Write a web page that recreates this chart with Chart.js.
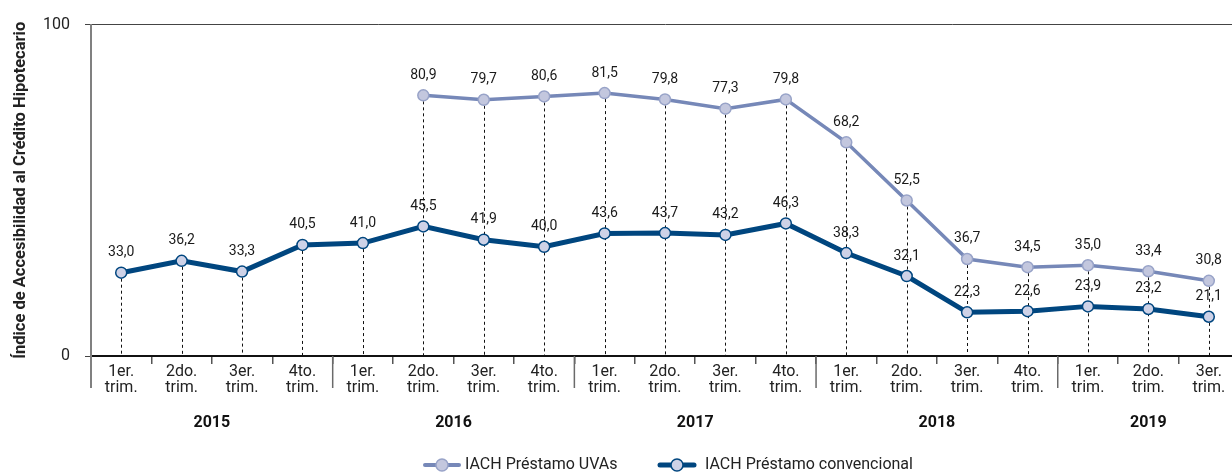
<!DOCTYPE html>
<html><head><meta charset="utf-8">
<script src="https://cdn.jsdelivr.net/npm/chart.js@4/dist/chart.umd.min.js"></script>
<style>html,body{margin:0;padding:0;background:#fff;overflow:hidden}#wrap{width:1246px;height:475px;position:relative}</style>
</head><body><div id="wrap"><canvas id="c"></canvas></div>
<script>
const quarters = [
  ["1er.","trim."],["2do.","trim."],["3er.","trim."],["4to.","trim."],
  ["1er.","trim."],["2do.","trim."],["3er.","trim."],["4to.","trim."],
  ["1er.","trim."],["2do.","trim."],["3er.","trim."],["4to.","trim."],
  ["1er.","trim."],["2do.","trim."],["3er.","trim."],["4to.","trim."],
  ["1er.","trim."],["2do.","trim."],["3er.","trim."]
];
const years = ["2015","2016","2017","2018","2019"];
const yearSizes = [4,4,4,4,3];
const uvas = [null,null,null,null,null,80.9,79.7,80.6,81.5,79.8,77.3,79.8,68.2,52.5,36.7,34.5,35.0,33.4,30.8];
const convencional = [33.0,36.2,33.3,40.5,41.0,45.5,41.9,40.0,43.6,43.7,43.2,46.3,38.3,32.1,22.3,22.6,23.9,23.2,21.1];
const seriesNames = ["IACH Préstamo UVAs","IACH Préstamo convencional"];
const yAxisMin = 10.5, yAxisMax = 100;
const yTickLabels = ["0","100"];
const yTitle = "Índice de Accesibilidad al Crédito Hipotecario";

const C_UVA_LINE = '#7688b8', C_UVA_FILL = '#c3c7de', C_UVA_PT = '#98a3c8';
const C_CONV_LINE = '#00467f', C_CONV_FILL = '#ced2e7';
const FONT = 'Roboto';

function fmt(v){ return v.toFixed(1).replace('.', ','); }

function drawMarker(ctx, cx, cy, lineColor, lw, fill, stroke){
  ctx.save();
  ctx.strokeStyle = lineColor; ctx.lineWidth = lw; ctx.lineCap='round';
  ctx.beginPath(); ctx.moveTo(cx-17, cy); ctx.lineTo(cx+17, cy); ctx.stroke();
  ctx.beginPath(); ctx.arc(cx, cy, 6, 0, Math.PI*2);
  ctx.fillStyle = fill; ctx.fill();
  ctx.lineWidth = 1.5; ctx.strokeStyle = stroke; ctx.stroke();
  ctx.restore();
}

const decor = {
  id: 'decor',
  beforeDatasetsDraw(chart){
    const {ctx, scales:{x, y}} = chart;
    ctx.save();
    ctx.strokeStyle = '#111'; ctx.lineWidth = 1; ctx.setLineDash([3,3]);
    for (let i = 0; i < quarters.length; i++){
      const vals = [uvas[i], convencional[i]].filter(v => v != null);
      const top = y.getPixelForValue(Math.max(...vals));
      const px = Math.round(x.getPixelForValue(i)) + 0.5;
      ctx.beginPath(); ctx.moveTo(px, top); ctx.lineTo(px, y.bottom); ctx.stroke();
    }
    ctx.restore();
  },
  afterDatasetsDraw(chart){
    const {ctx} = chart;
    ctx.save();
    ctx.font = '14px ' + FONT; ctx.fillStyle = '#1a1a1a';
    ctx.textAlign = 'center'; ctx.textBaseline = 'middle';
    [uvas, convencional].forEach((arr, di) => {
      const meta = chart.getDatasetMeta(di);
      arr.forEach((v, i) => {
        if (v == null) return;
        const pt = meta.data[i];
        ctx.fillText(fmt(v), pt.x, pt.y - 20);
      });
    });
    ctx.restore();
  },
  afterDraw(chart){
    const {ctx, scales:{x, y}} = chart;
    ctx.save();
    ctx.strokeStyle = '#808080'; ctx.lineWidth = 2;
    ctx.beginPath(); ctx.moveTo(x.left, y.bottom); ctx.lineTo(x.left, y.bottom + 32); ctx.stroke();
    let start = 0;
    ctx.strokeStyle = '#6a6a6a'; ctx.lineWidth = 1.5;
    for (let k = 0; k < yearSizes.length - 1; k++){
      start += yearSizes[k];
      const px = x.getPixelForValue(start - 0.5);
      ctx.beginPath(); ctx.moveTo(px, y.bottom); ctx.lineTo(px, y.bottom + 32); ctx.stroke();
    }
    ctx.font = 'bold 16px ' + FONT; ctx.fillStyle = '#111';
    ctx.textAlign = 'center'; ctx.textBaseline = 'middle';
    start = 0;
    years.forEach((yr, k) => {
      const mid = start + (yearSizes[k] - 1) / 2;
      ctx.fillText(yr, x.getPixelForValue(mid), 423);
      start += yearSizes[k];
    });
    ctx.font = '16px ' + FONT; ctx.fillStyle = '#222'; ctx.textAlign = 'left';
    const ly = 465;
    drawMarker(ctx, 442, ly, C_UVA_LINE, 4, C_UVA_FILL, C_UVA_PT);
    ctx.fillText(seriesNames[0], 465, ly);
    drawMarker(ctx, 677, ly, C_CONV_LINE, 5, C_CONV_FILL, C_CONV_LINE);
    ctx.fillText(seriesNames[1], 705, ly);
    ctx.restore();
  }
};

new Chart(document.getElementById('c'), {
  type: 'line',
  data: {
    labels: quarters,
    datasets: [
      {label: seriesNames[0], data: uvas, borderColor: C_UVA_LINE, borderWidth: 3.5,
       pointRadius: 5.5, pointBackgroundColor: C_UVA_FILL, pointBorderColor: C_UVA_PT, pointBorderWidth: 1.5, tension: 0},
      {label: seriesNames[1], data: convencional, borderColor: C_CONV_LINE, borderWidth: 5,
       pointRadius: 5.5, pointBackgroundColor: C_CONV_FILL, pointBorderColor: C_CONV_LINE, pointBorderWidth: 1.5, tension: 0}
    ]
  },
  options: {
    responsive: true, maintainAspectRatio: false, animation: false,
    layout: {padding: {left: 0, right: 4, top: 22, bottom: 0}},
    plugins: {legend: {display: false}, tooltip: {enabled: false}},
    scales: {
      x: {
        type: 'category', offset: true,
        grid: {offset: true, drawOnChartArea: false, tickLength: 8, color: '#555', lineWidth: 1.5},
        border: {color: '#111', width: 2},
        ticks: {font: {family: FONT, size: 16, lineHeight: 1}, color: '#222', padding: 0, maxRotation: 0, autoSkip: false},
        afterFit(s){ s.height = 119; }
      },
      y: {
        min: yAxisMin, max: yAxisMax,
        afterBuildTicks(s){ s.ticks = [{value: yAxisMin}, {value: yAxisMax}]; },
        ticks: {callback: (v, i) => yTickLabels[i], font: {family: FONT, size: 16}, color: '#222', padding: 15},
        grid: {color: '#444', lineWidth: 1, tickLength: 6},
        border: {color: '#808080', width: 2},
        title: {display: true, text: yTitle, font: {family: FONT, size: 16.5, weight: 'bold'}, color: '#222', padding: {top: 11, bottom: 0}},
        afterFit(s){ s.width = 91; }
      }
    }
  },
  plugins: [decor]
});
</script>
</body></html>
